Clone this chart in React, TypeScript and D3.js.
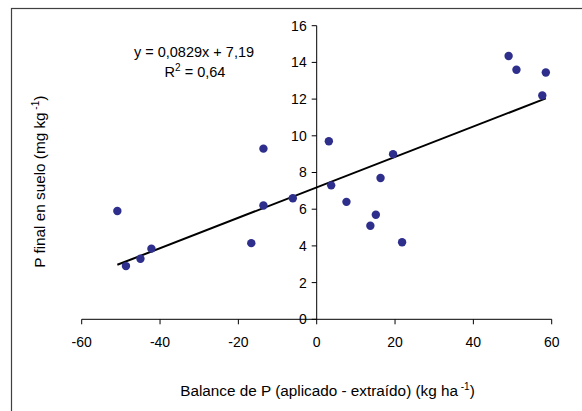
import React from 'react';
import * as d3 from 'd3';

// balance de P (kg/ha) vs P final en suelo (mg/kg)
const balanceP = [-50.9, -48.7, -45.0, -42.2, -16.7, -13.6, -13.6, -6.1, 3.1, 3.7, 7.6, 13.7, 15.1, 16.3, 19.5, 21.8, 49.0, 51.0, 57.6, 58.5];
const pFinal = [5.9, 2.9, 3.3, 3.85, 4.15, 9.3, 6.2, 6.6, 9.7, 7.3, 6.4, 5.1, 5.7, 7.7, 9.0, 4.2, 14.35, 13.6, 12.2, 13.45];
const xTicks = [-60, -40, -20, 0, 20, 40, 60];
const yTicks = [0, 2, 4, 6, 8, 10, 12, 14, 16];
const slope = 0.0829;
const intercept = 7.19;

const W = 582;
const H = 411;
const FONT = 'Liberation Sans, Arial, sans-serif';

export default function App() {
  const x = d3.scaleLinear().domain([-60, 60]).range([81.7, 551.7]);
  const y = d3.scaleLinear().domain([0, 16]).range([319.3, 25.7]);

  const x0 = x(0);
  const y0 = y(0);
  const xMin = d3.min(balanceP) as number;
  const xMax = d3.max(balanceP) as number;

  const line = d3.line<number>()
    .x(d => x(d))
    .y(d => y(slope * d + intercept));

  return (
    <svg width={W} height={H} style={{ position: 'absolute', left: 0, top: 0, background: '#fff' }}
      fontFamily={FONT} fontSize={14} fill="#000">
      <rect x={11.5} y={8.5} width={700} height={600} fill="none" stroke="#404040" strokeWidth={1.2} />

      {/* y axis */}
      <line x1={x0} x2={x0} y1={y(16)} y2={y0} stroke="#000" />
      {yTicks.map(t => (
        <g key={'y' + t}>
          <line x1={x0 - 5} x2={x0} y1={y(t)} y2={y(t)} stroke="#000" />
          <text x={x0 - 10} y={y(t)} dy="0.35em" textAnchor="end">{t}</text>
        </g>
      ))}

      {/* x axis */}
      <line x1={x(-60)} x2={x(60)} y1={y0} y2={y0} stroke="#000" />
      {xTicks.map(t => (
        <g key={'x' + t}>
          <line x1={x(t)} x2={x(t)} y1={y0} y2={y0 + 5} stroke="#000" />
          <text x={x(t)} y={y0 + 27.5} textAnchor="middle">{t}</text>
        </g>
      ))}

      {/* trend */}
      <path d={line([xMin, xMax]) || ''} fill="none" stroke="#000" strokeWidth={2} />

      {balanceP.map((b, i) => (
        <circle key={i} cx={x(b)} cy={y(pFinal[i])} r={4.2} fill="#2e2e8c" />
      ))}

      {/* equation */}
      <g fontSize={14.5}>
        <text x={194} y={57} textAnchor="middle">y = 0,0829x + 7,19</text>
        <text x={195} y={77} textAnchor="middle">
          R<tspan dy={-6} fontSize={10}>2</tspan><tspan dy={6}> = 0,64</tspan>
        </text>
      </g>

      {/* titles */}
      <g fontSize={15.3}>
        <text x={327.5} y={396} textAnchor="middle">
          Balance de P (aplicado - extraído) (kg ha<tspan dy={-6} fontSize={10}> -1</tspan><tspan dy={6}>)</tspan>
        </text>
        <text transform="translate(44.5,181.7) rotate(-90)" textAnchor="middle">
          P final en suelo (mg kg<tspan dy={-6} fontSize={10}> -1</tspan><tspan dy={6}>)</tspan>
        </text>
      </g>
    </svg>
  );
}
